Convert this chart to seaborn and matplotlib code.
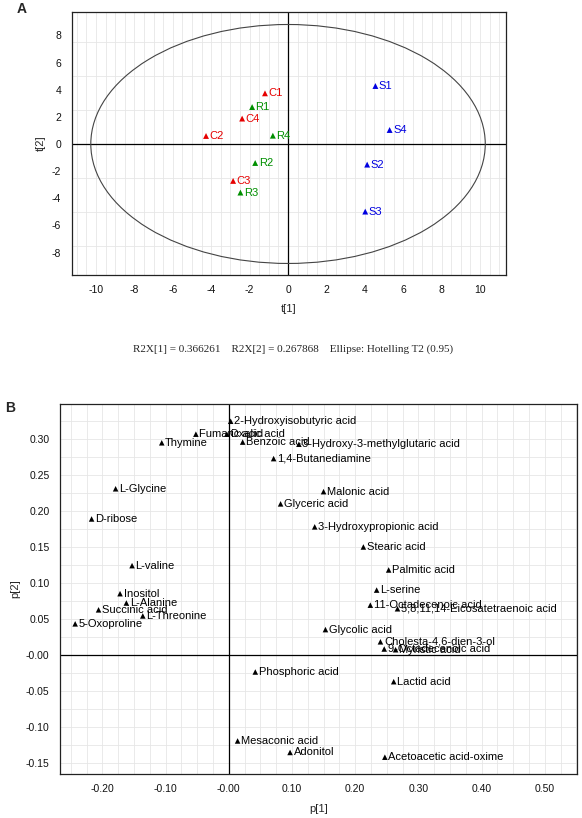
import numpy as np
import pandas as pd
import matplotlib
matplotlib.use("Agg")
import matplotlib.pyplot as plt
from matplotlib.patches import Ellipse
from matplotlib.ticker import MultipleLocator, FixedLocator
import seaborn as sns

# Panel A: PCA scores
score_names = ["C1", "C2", "C3", "C4", "R1", "R2", "R3", "R4", "S1", "S2", "S3", "S4"]
score_group = ["C"] * 4 + ["R"] * 4 + ["S"] * 4
t1 = [-1.20, -4.27, -2.86, -2.39, -1.87, -1.71, -2.48, -0.79, 4.55, 4.12, 4.02, 5.29]
t2 = [3.73, 0.59, -2.72, 1.87, 2.72, -1.40, -3.58, 0.61, 4.27, -1.52, -4.98, 1.03]
ellipse_axes = [10.27, 8.80]
a_xticks = [-10, -8, -6, -4, -2, 0, 2, 4, 6, 8, 10]
a_yticks = [-8, -6, -4, -2, 0, 2, 4, 6, 8]
caption = "R2X[1] = 0.366261    R2X[2] = 0.267868    Ellipse: Hotelling T2 (0.95)"

# Panel B: loadings
metabolites = [
    "2-Hydroxyisobutyric acid", "Fumaric acid", "Oxalic acid", "Benzoic acid",
    "3-Hydroxy-3-methylglutaric acid", "Thymine", "1,4-Butanediamine", "L-Glycine",
    "Malonic acid", "Glyceric acid", "D-ribose", "3-Hydroxypropionic acid",
    "Stearic acid", "L-valine", "Palmitic acid", "L-serine", "Inositol",
    "L-Alanine", "11-Octadecenoic acid", "5,8,11,14-Eicosatetraenoic acid",
    "Succinic acid", "L-Threonine", "5-Oxoproline", "Glycolic acid",
    "Cholesta-4,6-dien-3-ol", "9-Octadecenoic acid", "Myristic acid",
    "Phosphoric acid", "Lactid acid", "Mesaconic acid", "Adonitol",
    "Acetoacetic acid-oxime",
]
p1 = [0.003, -0.052, -0.003, 0.022, 0.111, -0.106, 0.071, -0.179,
      0.150, 0.082, -0.217, 0.136, 0.213, -0.153, 0.253, 0.234, -0.172,
      -0.162, 0.224, 0.267, -0.206, -0.136, -0.243, 0.153,
      0.240, 0.246, 0.264, 0.042, 0.261, 0.014, 0.097, 0.247]
p2 = [0.325, 0.307, 0.307, 0.296, 0.293, 0.295, 0.273, 0.231,
      0.227, 0.210, 0.189, 0.178, 0.150, 0.124, 0.118, 0.090, 0.085,
      0.072, 0.069, 0.064, 0.0625, 0.054, 0.043, 0.035,
      0.018, 0.008, 0.007, -0.024, -0.0375, -0.120, -0.136, -0.1426]
b_xticks = [-0.20, -0.10, 0.00, 0.10, 0.20, 0.30, 0.40, 0.50]
b_xlabels = ["-0.20", "-0.10", "-0.00", "0.10", "0.20", "0.30", "0.40", "0.50"]
b_yticks = [-0.15, -0.10, -0.05, 0.00, 0.05, 0.10, 0.15, 0.20, 0.25, 0.30]
b_ylabels = ["-0.15", "-0.10", "-0.05", "-0.00", "0.05", "0.10", "0.15", "0.20", "0.25", "0.30"]

group_colors = {"C": "#e60000", "R": "#008f00", "S": "#0000e0"}

sns.set_style("white")
plt.rcParams['font.family'] = ['Liberation Sans', 'DejaVu Sans']
plt.rcParams['axes.unicode_minus'] = False

fig = plt.figure(figsize=(5.82, 8.18), dpi=100)
W, H = 582, 818

def px_axes(left, top, right, bottom):
    return fig.add_axes([left / W, 1 - bottom / H, (right - left) / W, (bottom - top) / H])

def style_axes(ax):
    for s in ax.spines.values():
        s.set_color("#222222")
        s.set_linewidth(0.9)
    ax.tick_params(which="both", direction="out", colors="#222222", labelsize=7.5,
                   labelcolor="#111111")
    ax.tick_params(which="major", length=3.5, width=0.8, pad=4)
    ax.tick_params(which="minor", length=2.5, width=0.8)

# ---------- Panel A ----------
axA = px_axes(71.6, 12, 506, 275)
dfA = pd.DataFrame({"t1": t1, "t2": t2, "name": score_names, "group": score_group})
axA.set_xlim(-11.27, 11.35)
axA.set_ylim(-9.65, 9.72)
for gx in np.arange(-11, 11.01, 0.5):
    axA.axvline(gx, color="#e6e6e6", lw=0.6, zorder=0)
for gy in np.arange(-7.5, 7.51, 2.5):
    axA.axhline(gy, color="#e6e6e6", lw=0.6, zorder=0)
axA.axhline(0, color="black", lw=0.9, zorder=1)
axA.axvline(0, color="black", lw=0.9, zorder=1)
axA.add_patch(Ellipse((0, 0), 2 * ellipse_axes[0], 2 * ellipse_axes[1],
                      fill=False, ec="#444444", lw=0.8, zorder=2))
sns.scatterplot(data=dfA, x="t1", y="t2", hue="group", palette=group_colors,
                marker="^", s=18, edgecolor="none", legend=False, ax=axA, zorder=3)
for _, r in dfA.iterrows():
    axA.annotate(r["name"], (r["t1"], r["t2"]), xytext=(2.5, 0), textcoords="offset points",
                 va="center", ha="left", fontsize=8, color=group_colors[r["group"]])
axA.xaxis.set_major_locator(FixedLocator(a_xticks))
axA.xaxis.set_minor_locator(MultipleLocator(1))
axA.yaxis.set_major_locator(FixedLocator(a_yticks))
axA.yaxis.set_minor_locator(MultipleLocator(0.5))
style_axes(axA)
axA.set_xlabel("t[1]", fontsize=8, labelpad=6)
axA.set_ylabel("t[2]", fontsize=8, labelpad=4)
fig.text(22 / W, 1 - 9 / H, "A", fontsize=10, fontweight="bold", ha="center", va="center")
fig.text(293 / W, 1 - 349 / H, caption, fontsize=8, ha="center", va="center",
         family=["Liberation Serif", "DejaVu Serif"])

# ---------- Panel B ----------
axB = px_axes(60, 404, 577, 774)
dfB = pd.DataFrame({"p1": p1, "p2": p2, "name": metabolites})
axB.set_xlim(-0.267, 0.551)
axB.set_ylim(-0.166, 0.349)
for gx in np.arange(-0.25, 0.551, 0.025):
    axB.axvline(gx, color="#e6e6e6", lw=0.6, zorder=0)
for gy in np.arange(-0.15, 0.341, 0.025):
    axB.axhline(gy, color="#e6e6e6", lw=0.6, zorder=0)
axB.axhline(0, color="black", lw=0.9, zorder=1)
axB.axvline(0, color="black", lw=0.9, zorder=1)
sns.scatterplot(data=dfB, x="p1", y="p2", color="black", marker="^", s=16,
                edgecolor="none", legend=False, ax=axB, zorder=3)
for _, r in dfB.iterrows():
    axB.annotate(r["name"], (r["p1"], r["p2"]), xytext=(2.5, 0), textcoords="offset points",
                 va="center", ha="left", fontsize=8, color="black")
axB.xaxis.set_major_locator(FixedLocator(b_xticks))
axB.set_xticklabels(b_xlabels)
axB.xaxis.set_minor_locator(MultipleLocator(0.05))
axB.yaxis.set_major_locator(FixedLocator(b_yticks))
axB.set_yticklabels(b_ylabels)
axB.yaxis.set_minor_locator(MultipleLocator(0.025))
style_axes(axB)
axB.set_xlabel("p[1]", fontsize=8, labelpad=7)
axB.set_ylabel("p[2]", fontsize=8, labelpad=4)
fig.text(10 / W, 1 - 408 / H, "B", fontsize=10, fontweight="bold", ha="center", va="center")

fig.savefig("out.png", dpi=100, facecolor="white")
